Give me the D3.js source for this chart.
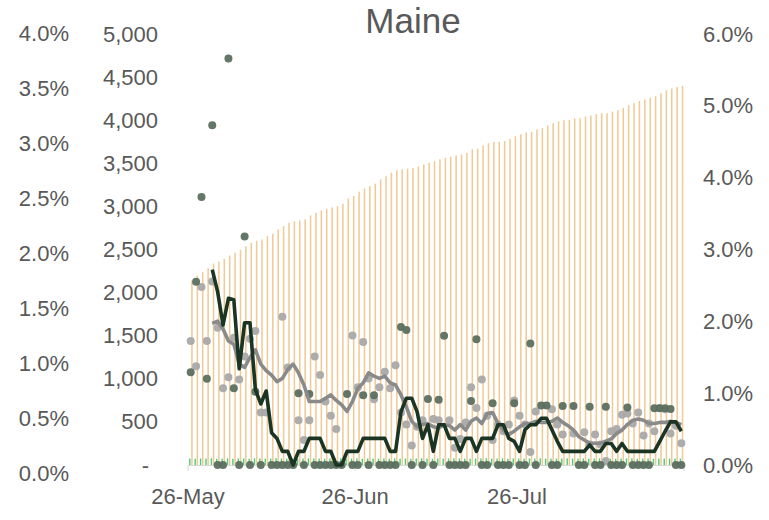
<!DOCTYPE html>
<html><head><meta charset="utf-8">
<script src="https://cdn.jsdelivr.net/npm/d3@7"></script>
<style>body{margin:0;background:#fff}svg{display:block}text{font-family:"Liberation Sans",Arial,sans-serif;fill:#595959}</style>
</head><body><svg id="c" width="769" height="520"></svg>
<script>
const title = "Maine";
const startDate = "2020-05-26";
const dayCount = 92;
const xTickDates = ["2020-05-26","2020-06-26","2020-07-26"];
const xTickLabels = ["26-May","26-Jun","26-Jul"];
const casesTicks = [0,500,1000,1500,2000,2500,3000,3500,4000,4500,5000];
const leftPctTicks = [0,0.005,0.01,0.015,0.02,0.025,0.03,0.035,0.04];
const rightPctTicks = [0,0.01,0.02,0.03,0.04,0.05,0.06];

// cumulative cases (orange bars, inner left axis)
const cumulative = [2140,2198,2236,2283,2337,2360,2392,2430,2462,2497,2538,2578,2601,2616,2655,2683,2733,2771,2810,2826,2837,2849,2895,2927,2953,2973,2988,3003,3031,3093,3120,3171,3209,3236,3264,3314,3349,3392,3419,3430,3438,3445,3462,3485,3508,3523,3547,3562,3578,3590,3601,3620,3663,3671,3709,3733,3748,3750,3759,3783,3814,3837,3857,3864,3892,3910,3938,3965,3985,4000,4003,4020,4023,4043,4055,4070,4078,4081,4101,4116,4143,4174,4198,4224,4241,4260,4279,4314,4345,4368,4384,4399];
// daily new cases (green bars, inner left axis)
const newCases = [75,72,76,74,78,73,75,77,74,76,75,73,77,75,74,76,78,75,73,76,74,75,77,76,74,73,75,76,78,74,75,77,73,76,75,74,76,75,77,73,75,74,76,78,75,73,76,74,75,77,76,74,73,75,76,78,74,75,77,73,76,75,74,76,75,77,73,75,74,76,78,75,73,76,74,75,77,76,74,73,75,76,78,74,75,77,73,76,75,74,76,75];
// dark series: daily values (right axis, %)
const darkDaily = [1.29,2.55,3.73,1.20,4.73,0,0,5.66,1.07,0,3.18,0,1.02,0,null,0,0,0,0,0,1.00,0,0.99,0,0,0,0,0,0,0.99,0,0,0.97,0,0.97,0,0,0,0,1.92,1.88,0,null,0,0.92,0,0.91,1.80,0,0,0,0,0.89,1.75,0,0,0.86,0,0,0,0.86,0,0,1.69,0,0.83,0.83,0,0,0.82,null,0.82,0,0,0.81,0,0,0.81,0,0,0,0.80,0,0,0,0,0.79,0.79,0.79,0.78,0,0];
// dark series: rolling average (right axis, %)
const darkAvg = [null,null,null,null,2.72,2.41,1.95,2.32,2.30,1.34,1.98,1.98,1.05,0.85,1.03,0.45,0.37,0.19,0.19,0,0.19,0.19,0.37,0.37,0.37,0.19,0.19,0,0,0.19,0.19,0.19,0.37,0.37,0.37,0.37,0.37,0.19,0.19,0.74,0.93,0.93,0.74,0.37,0.56,0.19,0.56,0.56,0.37,0.37,0.19,0.37,0.37,0.19,0.37,0.37,0.37,0.56,0.56,0.37,0.33,0.19,0.49,0.56,0.56,0.65,0.65,0.49,0.33,0.19,0.19,0.19,0.19,0.19,0.28,0.19,0.19,0.30,0.30,0.19,0.30,0.19,0.19,0.19,0.19,0.19,0.19,0.33,0.47,0.60,0.60,0.47];
// grey series: daily values (outer left axis, %)
const greyDaily = [1.20,0.97,1.69,1.20,1.74,1.32,0.77,0.87,1.23,0.85,1.06,1.22,1.29,0.55,0.55,null,null,1.42,0.96,null,0.48,0.30,0.48,1.06,0.89,0.65,0.52,0.40,null,null,1.25,0.78,1.19,0.86,0.67,0.78,0.92,0.77,0.98,0.55,0.44,0.25,0.42,0.48,null,0.49,0.48,null,0.48,0.23,0.31,0.46,0.78,0.59,0.85,0.52,0.30,0.44,0.38,0.44,0.66,0.52,0.44,0.19,0.56,null,null,0.58,0.44,0.35,null,0.36,null,0.37,0.26,0.35,0.26,0.11,0.38,0.40,0.53,0.54,0.45,0.55,0.34,0.45,0.38,0.59,0.58,0.36,0.43,0.27];
// grey series: rolling average (outer left axis, %)
const greyAvg = [null,null,null,null,1.36,1.38,1.31,1.20,1.17,0.99,0.96,1.05,1.12,0.99,0.93,0.89,0.83,0.86,0.94,0.99,0.91,0.80,0.65,0.65,0.65,0.68,0.71,0.66,0.62,0.56,0.65,0.77,0.82,0.91,0.88,0.86,0.88,0.82,0.80,0.71,0.60,0.47,0.42,0.44,0.45,0.42,0.41,0.44,0.43,0.39,0.44,0.39,0.47,0.50,0.45,0.54,0.55,0.45,0.39,0.35,0.38,0.42,0.45,0.45,0.47,0.46,0.46,0.47,0.50,0.46,0.43,0.39,0.33,0.30,0.27,0.27,0.27,0.29,0.31,0.36,0.39,0.44,0.48,0.49,0.48,0.45,0.45,0.46,0.46,0.47,0.46,0.44];

const parse = d3.timeParse("%Y-%m-%d");
const start = parse(startDate);
const dates = d3.timeDay.range(start, d3.timeDay.offset(start, dayCount));
const svg = d3.select("#c");

const x = d3.scaleBand().domain(dates.map(d => +d)).range([188, 684]).padding(0);
const bw = x.bandwidth();
const cx = i => x(+dates[i]) + bw / 2;
const yCases = d3.scaleLinear().domain([0, 5000]).range([465, 34]);
const yLeft = d3.scaleLinear().domain([0, 0.04]).range([473, 33]);
const yRight = d3.scaleLinear().domain([0, 0.06]).range([465, 34]);

// orange cumulative bars
svg.append("g").selectAll("rect").data(cumulative).join("rect")
  .attr("x", (d, i) => cx(i) + 0.5).attr("width", 1.5)
  .attr("y", d => yCases(d)).attr("height", d => yCases(0) - yCases(d))
  .attr("fill", "#F0C994");
// green daily bars
svg.append("g").selectAll("rect").data(newCases).join("rect")
  .attr("x", (d, i) => cx(i) - 1.6).attr("width", 1.4)
  .attr("y", d => yCases(d)).attr("height", d => yCases(0) - yCases(d))
  .attr("fill", "#4FCB7A");

// x axis line + ticks
const xa = svg.append("g");
xa.append("line").attr("x1", 188).attr("x2", 684).attr("y1", 465.5).attr("y2", 465.5).attr("stroke", "#d9d9d9");
const tickXs = xTickDates.map(s => x(+parse(s))).concat([684]);
xa.selectAll("line.t").data(tickXs).join("line").attr("class","t")
  .attr("x1", d => d).attr("x2", d => d).attr("y1", 465.5).attr("y2", 471).attr("stroke", "#d9d9d9");
xa.selectAll("text").data(xTickLabels).join("text")
  .attr("x", (d, i) => x(+parse(xTickDates[i])))
  .attr("y", 504).attr("text-anchor", "middle").attr("font-size", 22).text(d => d);

// grey dots
const pts = svg.append("g");
pts.selectAll("circle.g").data(greyDaily.map((v, i) => [i, v]).filter(d => d[1] != null)).join("circle")
  .attr("class","g").attr("cx", d => cx(d[0])).attr("cy", d => yLeft(d[1] / 100)).attr("r", 4)
  .attr("fill", "#a9a9a9").attr("opacity", 0.95);
// dark dots
pts.selectAll("circle.d").data(darkDaily.map((v, i) => [i, v]).filter(d => d[1] != null)).join("circle")
  .attr("class","d").attr("cx", d => cx(d[0])).attr("cy", d => yRight(d[1] / 100)).attr("r", 4)
  .attr("fill", "#5b6f60").attr("opacity", 0.95);

// lines
const greyLine = d3.line().defined(d => d[1] != null).x(d => cx(d[0])).y(d => yLeft(d[1] / 100));
svg.append("path").datum(greyAvg.map((v, i) => [i, v])).attr("d", greyLine)
  .attr("fill", "none").attr("stroke", "#8a8a8a").attr("stroke-width", 3.6).attr("stroke-linejoin", "round");
const darkLine = d3.line().defined(d => d[1] != null).x(d => cx(d[0])).y(d => yRight(d[1] / 100));
svg.append("path").datum(darkAvg.map((v, i) => [i, v])).attr("d", darkLine)
  .attr("fill", "none").attr("stroke", "#1b3524").attr("stroke-width", 3.6).attr("stroke-linejoin", "round");

// axes
const fmtC = d3.format(",");
const ac = svg.append("g").attr("transform", "translate(158,0)")
  .call(d3.axisLeft(yCases).tickValues(casesTicks).tickSize(0).tickPadding(0).tickFormat(d => d === 0 ? "-" : fmtC(d)));
const al = svg.append("g").attr("transform", "translate(69,0)")
  .call(d3.axisLeft(yLeft).tickValues(leftPctTicks).tickSize(0).tickPadding(0).tickFormat(d3.format(".1%")));
const ar = svg.append("g").attr("transform", "translate(703,0)")
  .call(d3.axisRight(yRight).tickValues(rightPctTicks).tickSize(0).tickPadding(0).tickFormat(d3.format(".1%")));
[ac, al, ar].forEach(g => {
  g.select(".domain").remove();
  g.selectAll("text").attr("font-size", 22).attr("fill", "#595959").attr("font-family", '"Liberation Sans", Arial, sans-serif');
});
ac.selectAll("text").filter(d => d === 0).attr("x", -9);

svg.append("text").attr("x", 413).attr("y", 33).attr("text-anchor", "middle").attr("font-size", 35).text(title);
</script></body></html>
